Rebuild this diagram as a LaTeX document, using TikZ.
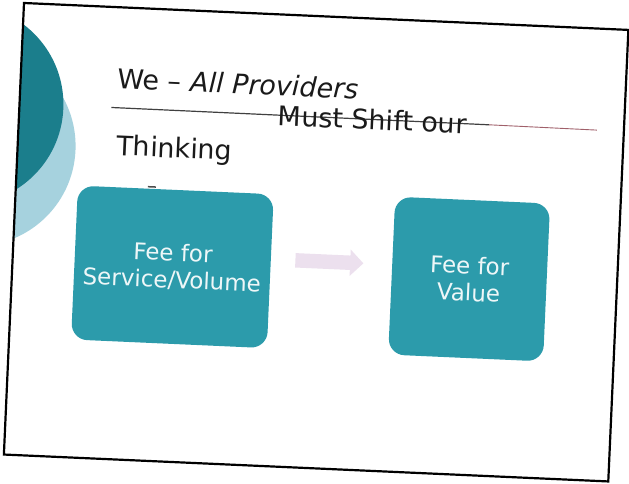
\documentclass[tikz,border=0pt]{standalone}
\usepackage{fontspec}
\setmainfont{DejaVu Sans}
\usepackage{tikz}
\usetikzlibrary{shapes.arrows,positioning}
\definecolor{tealbox}{HTML}{2C9BAB}
\definecolor{tealdark}{HTML}{1B7E8C}
\definecolor{teallight}{HTML}{A6D2DE}
\definecolor{lavender}{HTML}{ECE0EE}
\definecolor{ink}{HTML}{1A1A1A}
\definecolor{rulered}{HTML}{A0606A}

\begin{document}
\begin{tikzpicture}[x=1pt,y=-1pt,every node/.style={inner sep=0pt},title/.style={anchor=base west,text=ink,font=\fontsize{27}{32}\selectfont},tile/.style={fill=tealbox,rounded corners=16pt,align=center,text=white!92!tealbox,font=\fontsize{23}{27}\selectfont}]
\useasboundingbox (0,0) rectangle (629,484);
\fill[white] (0,0) rectangle (629,484);
\begin{scope}[shift={(24,3)},rotate=-2.55,transform shape]
% the two discs in the top left corner
\begin{scope}
\clip (0,0) rectangle (605,452);
\fill[teallight] (-42,145) circle (100);
\fill[tealdark] (-56,104) circle (100);
\end{scope}
% title
\draw[black!75,line width=1.2pt] (92,100.5) -- (470,101);
\draw[rulered,line width=0.9pt] (470,101) -- (578,101.5);
\node[title] (we) at (97,81) {We -- \textit{All Providers}};
\node[title] (must) at (259,111) {Must Shift our};
\node[title] (thinking) at (99,148) {Thinking};
\draw[black!70,line width=1.5pt] (132,178) -- (140,178);
% boxes and the arrow between them
\node[tile,minimum width=196pt,minimum height=154pt] (volume) at (160,257) {Fee for\\Service/Volume};
\node[tile,minimum width=155pt,minimum height=158pt] (value) at (457,256) {Fee for\\Value};
\node[single arrow,fill=lavender,inner sep=7pt,minimum height=68pt,single arrow head extend=6pt] (shift) at (313,245) {};
\draw[line width=2.2pt] (0,0) rectangle (605,452);
\end{scope}
\end{tikzpicture}
\end{document}
